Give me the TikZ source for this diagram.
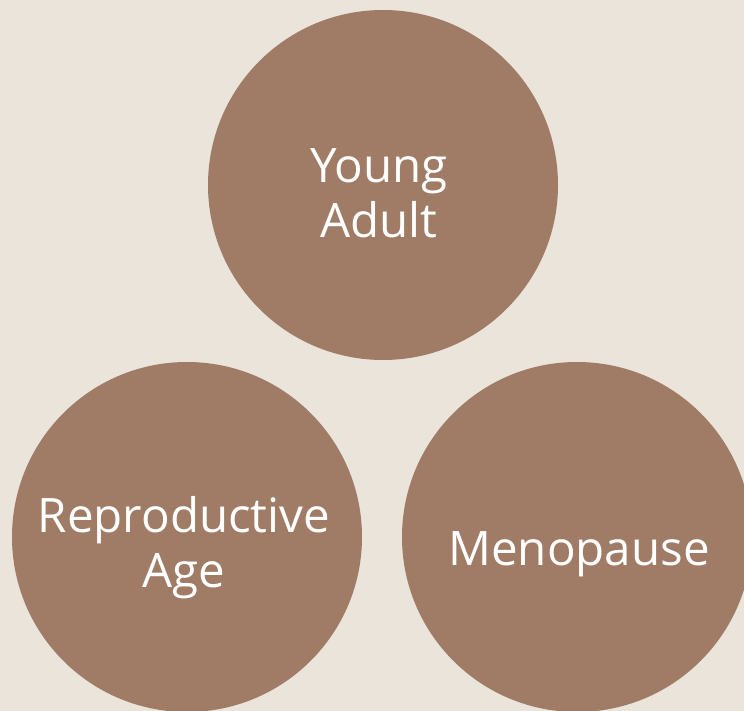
\documentclass[tikz,border=0pt]{standalone}
\usepackage{fontspec}
\setmainfont{Open Sans}
\usepackage{xcolor}
\usetikzlibrary{positioning}

\definecolor{sand}{HTML}{EAE4DB}
\definecolor{clay}{HTML}{A07C66}

\tikzset{
    stage/.style={circle, fill=clay, minimum size=350pt, inner sep=0pt},
    stagetext/.style={text=white, align=center, inner sep=0pt,
        font=\fontsize{47.5}{55}\selectfont}
}

\begin{document}
\begin{tikzpicture}[x=1pt, y=-1pt]

    % background and frame
    \clip (0,0) rectangle (744,711);
    \fill[sand] (0,0) rectangle (744,711);

    % the three circles
    \node[stage] (young) at (383,185) {};
    \node[stage] (repro) at (187,537) {};
    \node[stage] (meno)  at (577,537) {};

    % labels
    \node[stagetext] (youngtext) at ([xshift=-4pt, yshift=-8pt]young.center) {Young\\Adult};
    \node[stagetext] (reprotext) at ([xshift=-3pt, yshift=-11pt]repro.center) {Reproductive\\Age};
    \node[stagetext, anchor=base] (menotext) at ([xshift=2pt, yshift=-28pt]meno.center) {Menopause};

\end{tikzpicture}
\end{document}
